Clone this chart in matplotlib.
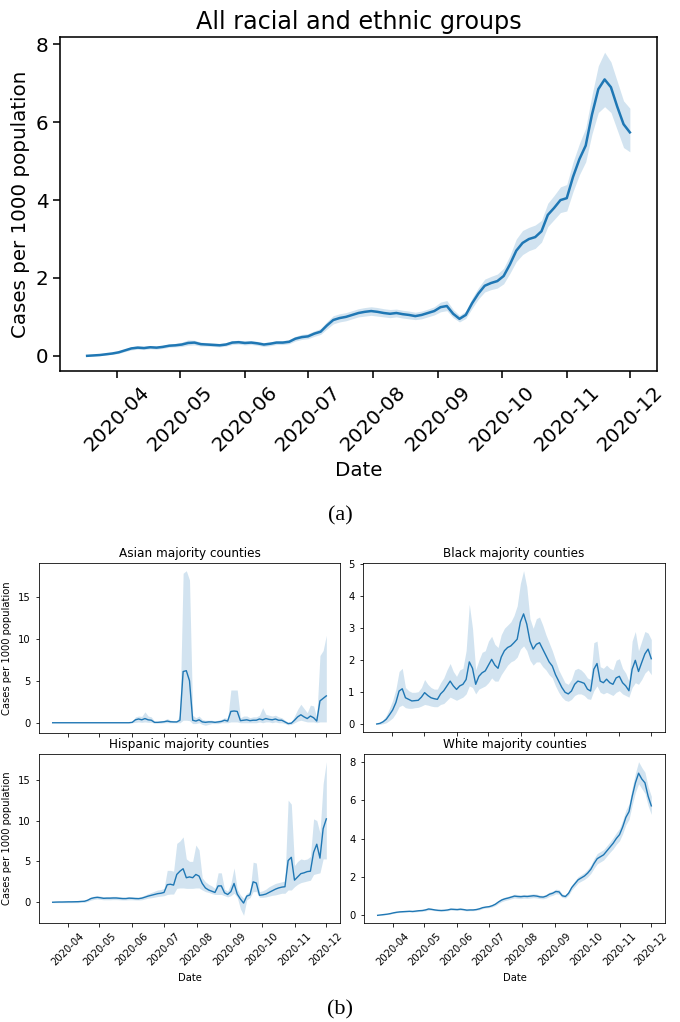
import matplotlib
matplotlib.use("Agg")
import matplotlib.pyplot as plt
import matplotlib.dates as mdates
import pandas as pd

# ---------------- data (3-day grid) ----------------
dates = pd.date_range("2020-03-18", periods=87, freq="3D")

all_mean = [0.00, 0.01, 0.02, 0.04, 0.06, 0.09, 0.14, 0.19, 0.21, 0.20, 0.22, 0.21, 0.23, 0.26, 0.27,
            0.29, 0.33, 0.34, 0.30, 0.29, 0.28, 0.27, 0.29, 0.34, 0.35, 0.33, 0.34, 0.32, 0.29, 0.31,
            0.34, 0.34, 0.36, 0.44, 0.48, 0.50, 0.57, 0.62, 0.78, 0.92, 0.97, 1.00, 1.05, 1.10, 1.13,
            1.15, 1.13, 1.10, 1.08, 1.10, 1.07, 1.05, 1.02, 1.05, 1.10, 1.15, 1.25, 1.28, 1.08, 0.95,
            1.05, 1.35, 1.60, 1.80, 1.87, 1.92, 2.05, 2.35, 2.70, 2.90, 3.00, 3.05, 3.20, 3.62, 3.80,
            4.00, 4.05, 4.60, 5.05, 5.40, 6.20, 6.85, 7.10, 6.90, 6.40, 5.95, 5.74]
all_lo = [0.00, 0.00, 0.01, 0.02, 0.04, 0.06, 0.11, 0.15, 0.17, 0.16, 0.18, 0.17, 0.19, 0.22, 0.23,
          0.24, 0.27, 0.28, 0.25, 0.25, 0.24, 0.23, 0.25, 0.29, 0.30, 0.28, 0.29, 0.27, 0.24, 0.26,
          0.29, 0.29, 0.31, 0.38, 0.42, 0.44, 0.50, 0.55, 0.69, 0.82, 0.87, 0.90, 0.95, 1.00, 1.02,
          1.04, 1.02, 1.00, 0.98, 1.00, 0.97, 0.95, 0.93, 0.95, 1.00, 1.05, 1.13, 1.16, 0.98, 0.87,
          0.96, 1.22, 1.46, 1.64, 1.70, 1.74, 1.85, 2.12, 2.42, 2.60, 2.70, 2.76, 2.92, 3.32, 3.50,
          3.68, 3.72, 4.22, 4.65, 4.98, 5.70, 6.25, 6.40, 6.25, 5.80, 5.35, 5.24]
all_hi = [0.01, 0.02, 0.03, 0.06, 0.08, 0.12, 0.17, 0.23, 0.26, 0.24, 0.26, 0.25, 0.27, 0.30, 0.32,
          0.35, 0.41, 0.40, 0.35, 0.34, 0.33, 0.32, 0.34, 0.39, 0.40, 0.38, 0.39, 0.37, 0.34, 0.36,
          0.39, 0.39, 0.42, 0.50, 0.55, 0.57, 0.64, 0.70, 0.88, 1.03, 1.08, 1.11, 1.16, 1.21, 1.24,
          1.26, 1.24, 1.21, 1.19, 1.20, 1.17, 1.15, 1.12, 1.15, 1.20, 1.26, 1.38, 1.42, 1.19, 1.04,
          1.15, 1.48, 1.75, 1.97, 2.04, 2.10, 2.25, 2.58, 3.00, 3.22, 3.30, 3.36, 3.48, 3.92, 4.12,
          4.34, 4.40, 4.98, 5.45, 5.85, 6.70, 7.45, 7.80, 7.55, 7.05, 6.55, 6.36]

asian_mean = [0.0] * 25 + [
    0.05, 0.35, 0.45, 0.35, 0.50, 0.35, 0.30, 0.05, 0.05, 0.08, 0.12, 0.20, 0.12, 0.10, 0.10,
    0.30, 6.10, 6.20, 5.00, 0.30, 0.20, 0.35, 0.10, 0.05, 0.10, 0.10, 0.05, 0.10, 0.15, 0.30,
    0.20, 1.35, 1.40, 1.35, 0.25, 0.30, 0.35, 0.25, 0.30, 0.30, 0.45, 0.35, 0.50, 0.40, 0.35,
    0.45, 0.30, 0.30, 0.10, -0.10, -0.05, 0.30, 0.70, 0.95, 0.70, 0.50, 0.80, 0.60, 0.20, 2.60,
    2.90, 3.20]
asian_lo = [0.0] * 25 + [
    0.00, 0.05, 0.10, 0.05, 0.10, 0.05, 0.05, -0.05, -0.05, -0.05, 0.00, 0.00, 0.00, 0.00, 0.00,
    0.00, 0.30, 0.30, 0.25, -0.10, -0.10, 0.00, -0.20, -0.30, -0.20, -0.10, -0.10, -0.10, 0.00, 0.00,
    0.00, 0.10, 0.10, 0.10, 0.00, 0.00, 0.00, 0.00, 0.00, 0.00, 0.10, 0.00, 0.10, 0.10, 0.00,
    0.10, 0.00, 0.00, -0.10, -0.25, -0.20, 0.00, 0.20, 0.30, 0.20, 0.10, 0.10, 0.10, 0.00, 0.10,
    0.10, 0.10]
asian_hi = [0.0] * 25 + [
    0.10, 0.70, 0.80, 0.75, 1.30, 0.80, 0.70, 0.15, 0.15, 0.25, 0.30, 0.50, 0.30, 0.25, 0.20,
    1.00, 17.80, 18.10, 17.00, 0.90, 0.60, 0.80, 0.40, 0.30, 0.30, 0.30, 0.20, 0.30, 0.40, 0.60,
    0.50, 3.90, 3.90, 3.90, 0.60, 0.80, 0.80, 0.60, 0.70, 0.70, 0.90, 1.80, 1.00, 0.90, 0.80,
    0.90, 0.70, 0.60, 0.30, 0.05, 0.10, 0.80, 1.60, 2.20, 1.70, 1.20, 2.10, 2.00, 0.60, 8.00,
    8.60, 10.40]

black_mean = [0.01, 0.03, 0.08, 0.16, 0.30, 0.45, 0.68, 1.04, 1.11, 0.83, 0.78, 0.73, 0.74, 0.75, 0.85,
              0.99, 0.90, 0.83, 0.80, 0.78, 0.95, 1.05, 1.20, 1.35, 1.20, 1.09, 1.20, 1.25, 1.40, 1.95,
              1.75, 1.25, 1.50, 1.61, 1.67, 1.85, 2.03, 1.85, 1.75, 2.10, 2.30, 2.40, 2.45, 2.55, 2.66,
              3.20, 3.45, 3.13, 2.60, 2.35, 2.50, 2.55, 2.35, 2.15, 1.95, 1.82, 1.55, 1.35, 1.15, 1.00,
              0.95, 1.04, 1.25, 1.35, 1.32, 1.28, 1.10, 1.04, 1.72, 1.90, 1.35, 1.30, 1.41, 1.30, 1.25,
              1.45, 1.50, 1.30, 1.20, 1.05, 1.72, 2.00, 1.65, 1.93, 2.20, 2.35, 2.05]
black_lo = [0.00, 0.00, 0.02, 0.05, 0.12, 0.20, 0.35, 0.55, 0.60, 0.52, 0.50, 0.50, 0.52, 0.53, 0.57,
            0.62, 0.60, 0.57, 0.55, 0.55, 0.62, 0.65, 0.75, 0.85, 0.80, 0.75, 0.80, 0.85, 0.95, 1.20,
            1.15, 0.95, 1.10, 1.15, 1.20, 1.30, 1.45, 1.35, 1.35, 1.55, 1.70, 1.85, 1.95, 2.00, 2.10,
            2.35, 2.45, 2.30, 2.00, 1.85, 1.95, 1.95, 1.80, 1.70, 1.55, 1.45, 1.20, 1.00, 0.85, 0.75,
            0.72, 0.78, 0.90, 0.95, 0.95, 0.90, 0.80, 0.78, 1.05, 1.20, 1.00, 0.95, 1.00, 0.95, 0.90,
            1.00, 1.05, 0.95, 0.90, 0.85, 1.15, 1.30, 1.25, 1.40, 1.60, 1.70, 1.55]
black_hi = [0.02, 0.06, 0.14, 0.28, 0.50, 0.75, 1.10, 1.65, 1.75, 1.15, 1.05, 1.00, 1.00, 1.02, 1.15,
            1.40, 1.25, 1.15, 1.10, 1.10, 1.30, 1.45, 1.70, 1.90, 1.65, 1.50, 1.70, 1.75, 2.30, 3.75,
            3.00, 1.70, 2.00, 2.25, 2.30, 2.60, 2.75, 2.50, 2.40, 2.80, 3.00, 3.10, 3.20, 3.40, 3.70,
            4.40, 4.80, 4.30, 3.30, 3.00, 3.30, 3.35, 3.10, 2.80, 2.55, 2.30, 2.00, 1.70, 1.50, 1.30,
            1.25, 1.40, 1.70, 1.75, 1.70, 1.60, 1.45, 1.40, 2.55, 2.60, 1.80, 1.75, 1.85, 1.75, 1.70,
            2.00, 2.05, 1.75, 1.60, 1.35, 2.60, 2.90, 2.30, 2.60, 2.90, 2.85, 2.65]

hisp_mean = [0.00, 0.02, 0.03, 0.03, 0.04, 0.05, 0.05, 0.06, 0.07, 0.10, 0.12, 0.25, 0.45, 0.55, 0.60,
             0.55, 0.48, 0.50, 0.50, 0.52, 0.52, 0.48, 0.45, 0.45, 0.50, 0.48, 0.45, 0.44, 0.50, 0.62,
             0.75, 0.85, 0.95, 1.05, 1.10, 1.20, 2.15, 2.20, 2.10, 3.40, 3.80, 4.10, 3.00, 3.10, 3.00,
             3.40, 3.20, 2.30, 1.75, 1.50, 1.35, 1.20, 2.00, 2.00, 1.15, 0.95, 1.30, 2.30, 1.00, 0.40,
             -0.10, 0.75, 0.90, 2.50, 2.35, 0.85, 0.90, 1.00, 1.20, 1.40, 1.60, 1.75, 1.85, 1.90, 5.10,
             5.50, 2.70, 3.10, 3.50, 3.60, 3.75, 3.80, 6.10, 7.10, 5.40, 9.00, 10.20]
hisp_lo = [-0.05, -0.05, -0.05, -0.05, -0.05, -0.05, -0.05, -0.05, -0.05, 0.00, 0.00, 0.10, 0.25, 0.35, 0.40,
           0.35, 0.30, 0.30, 0.30, 0.32, 0.32, 0.30, 0.28, 0.28, 0.30, 0.30, 0.28, 0.27, 0.30, 0.40,
           0.50, 0.55, 0.62, 0.70, 0.75, 0.80, 0.95, 1.00, 1.00, 1.70, 1.75, 1.75, 1.70, 1.70, 1.70,
           1.75, 1.75, 1.50, 1.30, 1.20, 1.05, 0.95, 0.95, 0.95, 0.80, 0.65, 0.80, 1.10, 0.60, -0.80,
           -1.60, 0.30, 0.55, 1.30, 1.30, 0.60, 0.60, 0.65, 0.75, 0.85, 0.90, 1.00, 1.10, 1.10, 1.50,
           1.50, 1.90, 2.20, 2.40, 2.50, 2.60, 2.70, 3.40, 3.50, 3.60, 5.30, 5.30]
hisp_hi = [0.05, 0.08, 0.10, 0.10, 0.12, 0.15, 0.15, 0.15, 0.18, 0.20, 0.25, 0.40, 0.65, 0.75, 0.80,
           0.75, 0.68, 0.70, 0.70, 0.72, 0.72, 0.68, 0.62, 0.62, 0.70, 0.68, 0.65, 0.62, 0.72, 0.88,
           1.05, 1.20, 1.35, 1.50, 1.55, 1.70, 3.90, 3.90, 3.80, 7.20, 7.50, 8.00, 5.30, 5.00, 5.00,
           7.00, 6.40, 3.00, 2.50, 2.20, 2.00, 1.70, 3.60, 3.60, 1.60, 1.35, 2.30, 4.20, 1.60, 0.90,
           0.50, 1.10, 1.30, 4.90, 4.80, 1.30, 1.40, 1.60, 1.90, 2.10, 2.30, 2.40, 2.50, 2.60, 12.50,
           12.00, 4.50, 5.00, 5.30, 5.20, 5.30, 5.60, 10.20, 10.00, 8.50, 14.50, 17.20]

white_mean = [0.00, 0.02, 0.04, 0.06, 0.09, 0.13, 0.16, 0.18, 0.19, 0.20, 0.21, 0.20, 0.22, 0.24, 0.25,
              0.28, 0.33, 0.31, 0.28, 0.26, 0.25, 0.26, 0.28, 0.32, 0.31, 0.30, 0.32, 0.30, 0.27, 0.28,
              0.28, 0.30, 0.34, 0.40, 0.43, 0.45, 0.50, 0.58, 0.70, 0.80, 0.86, 0.90, 0.95, 1.00, 0.98,
              0.97, 0.99, 0.98, 1.00, 1.02, 1.00, 0.96, 0.95, 1.00, 1.10, 1.15, 1.24, 1.22, 1.02, 0.98,
              1.15, 1.45, 1.65, 1.85, 1.95, 2.05, 2.20, 2.40, 2.70, 2.95, 3.05, 3.15, 3.35, 3.55, 3.75,
              4.00, 4.20, 4.60, 5.10, 5.40, 6.20, 6.90, 7.40, 7.10, 6.90, 6.20, 5.70]
white_lo = [0.00, 0.01, 0.02, 0.04, 0.07, 0.10, 0.13, 0.15, 0.16, 0.17, 0.18, 0.17, 0.18, 0.20, 0.21,
            0.23, 0.27, 0.26, 0.24, 0.22, 0.21, 0.22, 0.24, 0.27, 0.26, 0.25, 0.27, 0.25, 0.23, 0.24,
            0.24, 0.26, 0.29, 0.35, 0.38, 0.40, 0.44, 0.51, 0.62, 0.71, 0.77, 0.81, 0.86, 0.90, 0.88,
            0.87, 0.89, 0.88, 0.90, 0.92, 0.90, 0.87, 0.86, 0.90, 0.99, 1.04, 1.12, 1.10, 0.93, 0.90,
            1.05, 1.32, 1.50, 1.69, 1.78, 1.87, 2.00, 2.18, 2.45, 2.68, 2.78, 2.88, 3.08, 3.28, 3.46,
            3.70, 3.88, 4.25, 4.72, 5.00, 5.75, 6.40, 6.85, 6.60, 6.35, 5.70, 5.25]
white_hi = [0.01, 0.03, 0.06, 0.08, 0.11, 0.16, 0.19, 0.21, 0.22, 0.23, 0.24, 0.23, 0.26, 0.28, 0.29,
            0.33, 0.39, 0.36, 0.32, 0.30, 0.29, 0.30, 0.32, 0.37, 0.36, 0.35, 0.37, 0.35, 0.31, 0.32,
            0.32, 0.34, 0.39, 0.45, 0.48, 0.50, 0.56, 0.65, 0.78, 0.89, 0.95, 0.99, 1.04, 1.10, 1.08,
            1.07, 1.09, 1.08, 1.10, 1.12, 1.10, 1.05, 1.04, 1.10, 1.21, 1.26, 1.36, 1.34, 1.11, 1.06,
            1.25, 1.58, 1.80, 2.01, 2.12, 2.23, 2.40, 2.62, 2.95, 3.22, 3.32, 3.42, 3.62, 3.82, 4.04,
            4.30, 4.52, 4.95, 5.48, 5.80, 6.65, 7.40, 8.00, 7.70, 7.45, 6.70, 6.20]

# ---------------- styling ----------------
BLUE = "#1f77b4"
SANS = ["DejaVu Sans"]
SERIF = ["Liberation Serif", "DejaVu Serif"]


def style_axes(ax, scale):
    for s in ax.spines.values():
        s.set_linewidth(0.8 * scale)
    ax.tick_params(labelsize=10 * scale, length=3.5 * scale, width=0.8 * scale)
    ax.xaxis.set_major_locator(mdates.MonthLocator())
    ax.xaxis.set_major_formatter(mdates.DateFormatter("%Y-%m"))


def draw(ax, mean, lo, hi, lw):
    ax.fill_between(dates, lo, hi, color=BLUE, alpha=0.2, linewidth=0)
    ax.plot(dates, mean, color=BLUE, linewidth=lw)


fig = plt.figure(figsize=(6.8, 10.22), dpi=100)
W, H = 680.0, 1022.0


def box(l, t, r, b):
    return [l / W, 1 - b / H, (r - l) / W, (b - t) / H]


# ---- (a) ----
big = 1.43
ax0 = fig.add_axes(box(60, 37, 657, 371))
draw(ax0, all_mean, all_lo, all_hi, 1.8)
style_axes(ax0, big)
ax0.set_title("All racial and ethnic groups", fontsize=12 * big, family=SANS)
ax0.set_ylabel("Cases per 1000 population", fontsize=10 * big, family=SANS)
ax0.set_xlabel("Date", fontsize=10 * big, family=SANS)
for lab in ax0.get_xticklabels():
    lab.set_rotation(45)
fig.text(340 / W, 1 - 516 / H, "(a)", family=SERIF, fontsize=16, ha="center", va="center")

# ---- (b) ----
small = 0.72
panels = [
    ("Asian majority counties", asian_mean, asian_lo, asian_hi, (39, 563, 340, 733), True, False),
    ("Black majority counties", black_mean, black_lo, black_hi, (363, 563, 665, 732), False, False),
    ("Hispanic majority counties", hisp_mean, hisp_lo, hisp_hi, (39, 754, 340, 923), True, True),
    ("White majority counties", white_mean, white_lo, white_hi, (364, 754, 665, 923), False, True),
]
axes = []
for title, m, lo, hi, bb, ylab, bottom in panels:
    ax = fig.add_axes(box(*bb))
    draw(ax, m, lo, hi, 1.0)
    style_axes(ax, small)
    ax.set_title(title, fontsize=12 * small, family=SANS, pad=6 * small)
    if ylab:
        ax.set_ylabel("Cases per 1000 population", fontsize=10 * small, family=SANS)
    if bottom:
        ax.set_xlabel("Date", fontsize=10 * small, family=SANS)
        for lab in ax.get_xticklabels():
            lab.set_rotation(45)
    else:
        ax.tick_params(labelbottom=False)
    axes.append(ax)

# share the x range between the rows
for i in (0, 1):
    axes[i].set_xlim(axes[i + 2].get_xlim())

fig.text(340 / W, 1 - 1010 / H, "(b)", family=SERIF, fontsize=16, ha="center", va="center")

fig.savefig("out.png", dpi=100)
